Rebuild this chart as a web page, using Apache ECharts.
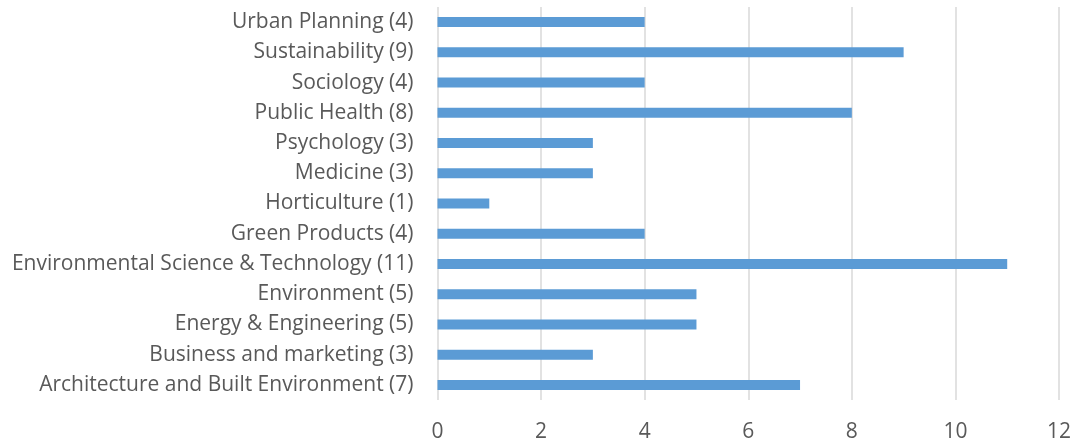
<!DOCTYPE html>
<html>
<head>
<meta charset="utf-8">
<script src="https://cdn.jsdelivr.net/npm/echarts@6/dist/echarts.min.js"></script>
<style>
  html, body { margin: 0; padding: 0; background: #fff; }
  #chart { width: 1075px; height: 443px; }
</style>
</head>
<body>
<div id="chart"></div>
<script>
// categories bottom to top, as the chart reads
const categories = [
  'Architecture and Built Environment (7)',
  'Business and marketing (3)',
  'Energy & Engineering (5)',
  'Environment (5)',
  'Environmental Science & Technology (11)',
  'Green Products (4)',
  'Horticulture (1)',
  'Medicine (3)',
  'Psychology (3)',
  'Public Health (8)',
  'Sociology (4)',
  'Sustainability (9)',
  'Urban Planning (4)'
];
const counts = [7, 3, 5, 5, 11, 4, 1, 3, 3, 8, 4, 9, 4];

const textColor = '#595959';
const fontFamily = '"Open Sans", sans-serif';

const chart = echarts.init(document.getElementById('chart'));
chart.setOption({
  animation: false,
  grid: { left: 437.5, right: 16, top: 7, bottom: 43 },
  xAxis: {
    type: 'value',
    min: 0,
    max: 12,
    interval: 2,
    axisLine: { show: false },
    axisTick: { show: false },
    axisLabel: { color: textColor, fontSize: 21, fontFamily: fontFamily, margin: 22 },
    splitLine: { lineStyle: { color: '#d9d9d9', width: 1.5 } }
  },
  yAxis: {
    type: 'category',
    data: categories,
    axisLine: { show: false },
    axisTick: { show: false },
    axisLabel: { color: textColor, fontSize: 21, fontFamily: fontFamily, margin: 24 }
  },
  series: [
    {
      type: 'bar',
      data: counts,
      barWidth: 10,
      itemStyle: { color: '#5b9bd5' }
    }
  ]
});
</script>
</body>
</html>
